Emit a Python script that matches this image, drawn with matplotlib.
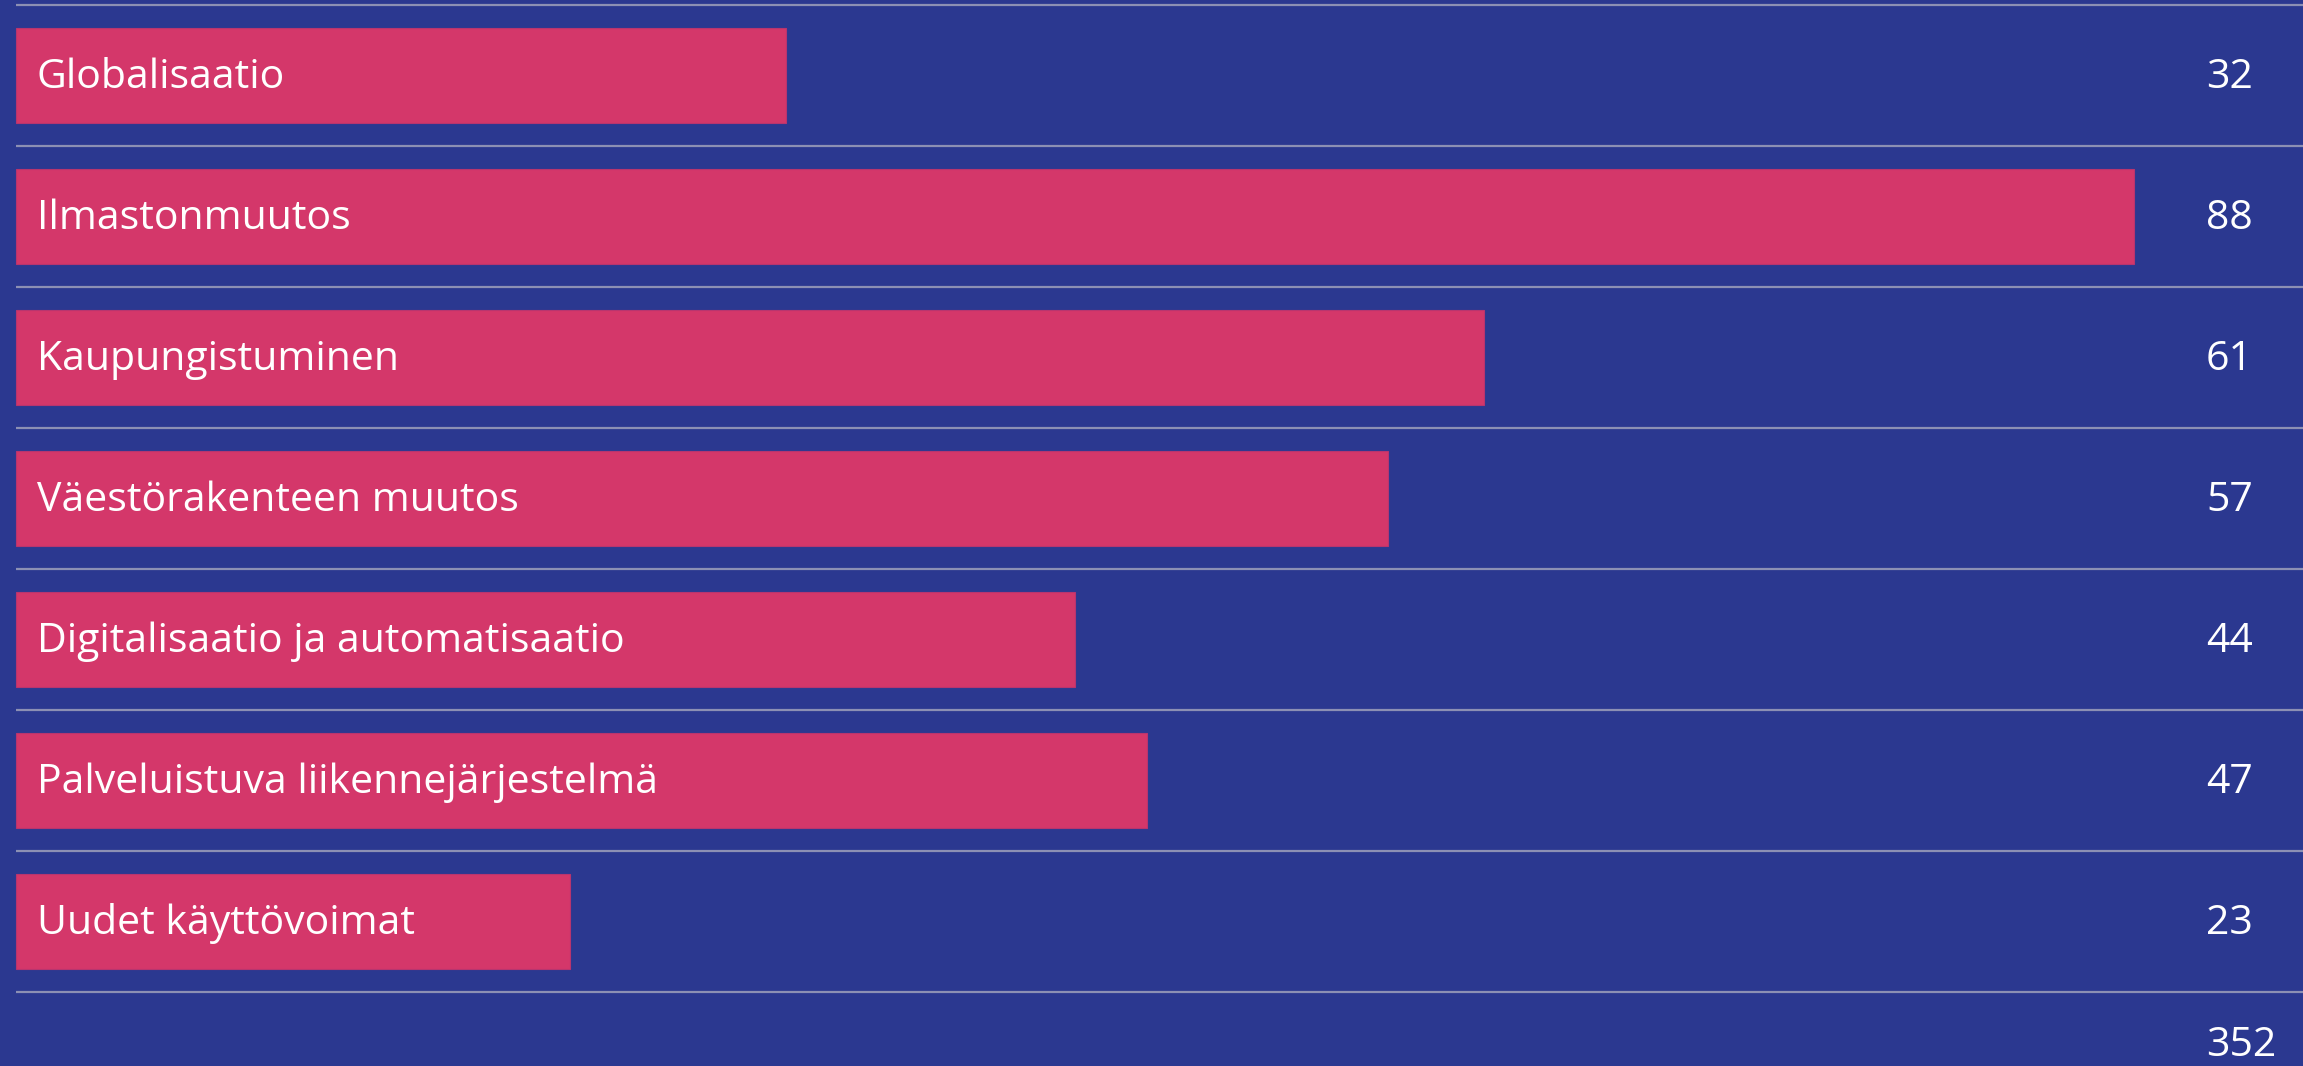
import matplotlib
matplotlib.use("Agg")
import matplotlib.pyplot as plt
import matplotlib.transforms as mtransforms

categories = [
    "Globalisaatio",
    "Ilmastonmuutos",
    "Kaupungistuminen",
    "Väestörakenteen muutos",
    "Digitalisaatio ja automatisaatio",
    "Palveluistuva liikennejärjestelmä",
    "Uudet käyttövoimat",
]
values = [32, 88, 61, 57, 44, 47, 23]
total = 352

BG = "#2B3890"
BAR = "#D4376A"
LINE = "#8C90B4"
FONT = ["Open Sans", "DejaVu Sans"]

W, H, DPI = 2303, 1066, 100
fig = plt.figure(figsize=(W / DPI, H / DPI), dpi=DPI, facecolor=BG)
ax = fig.add_axes([0, 0, 1, 1])
ax.set_facecolor(BG)

# pixel geometry
x0_px, xmax_px = 16, 2134
ppu = (xmax_px - x0_px) / max(values)
ax.set_xlim(-x0_px / ppu, (W - x0_px) / ppu)
row_px, c0_px = 141, 75.5
ax.set_ylim((H - c0_px) / row_px, -c0_px / row_px)

n = len(categories)
ys = list(range(n))
ax.barh(ys, values, height=0.68, left=0, color=BAR, edgecolor="#B8356E", linewidth=0.8, zorder=2)

xr = ax.get_xlim()[1]
for i in range(n + 1):
    ax.hlines(i - 0.5, 0, xr, color=LINE, linewidth=1.6, zorder=1)

val_tr = mtransforms.blended_transform_factory(ax.transAxes, ax.transData)
FS = 29.5
for y, cat, v in zip(ys, categories, values):
    ax.annotate(cat, xy=(0, y), xytext=(15, -1.5), textcoords="offset points",
                color="white", fontsize=FS, family=FONT, va="center", ha="left", zorder=3)
    ax.annotate(str(v), xy=(2206 / W, y), xycoords=val_tr, xytext=(0, -1.5),
                textcoords="offset points", color="white", fontsize=FS,
                family=FONT, va="center", ha="left", zorder=3)

ax.annotate(str(total), xy=(2206 / W, n - 0.1), xycoords=val_tr, xytext=(0, 2),
            textcoords="offset points", color="white", fontsize=FS,
            family=FONT, va="center", ha="left", zorder=3)

ax.axis("off")
fig.savefig("out.png", dpi=DPI, facecolor=BG)
